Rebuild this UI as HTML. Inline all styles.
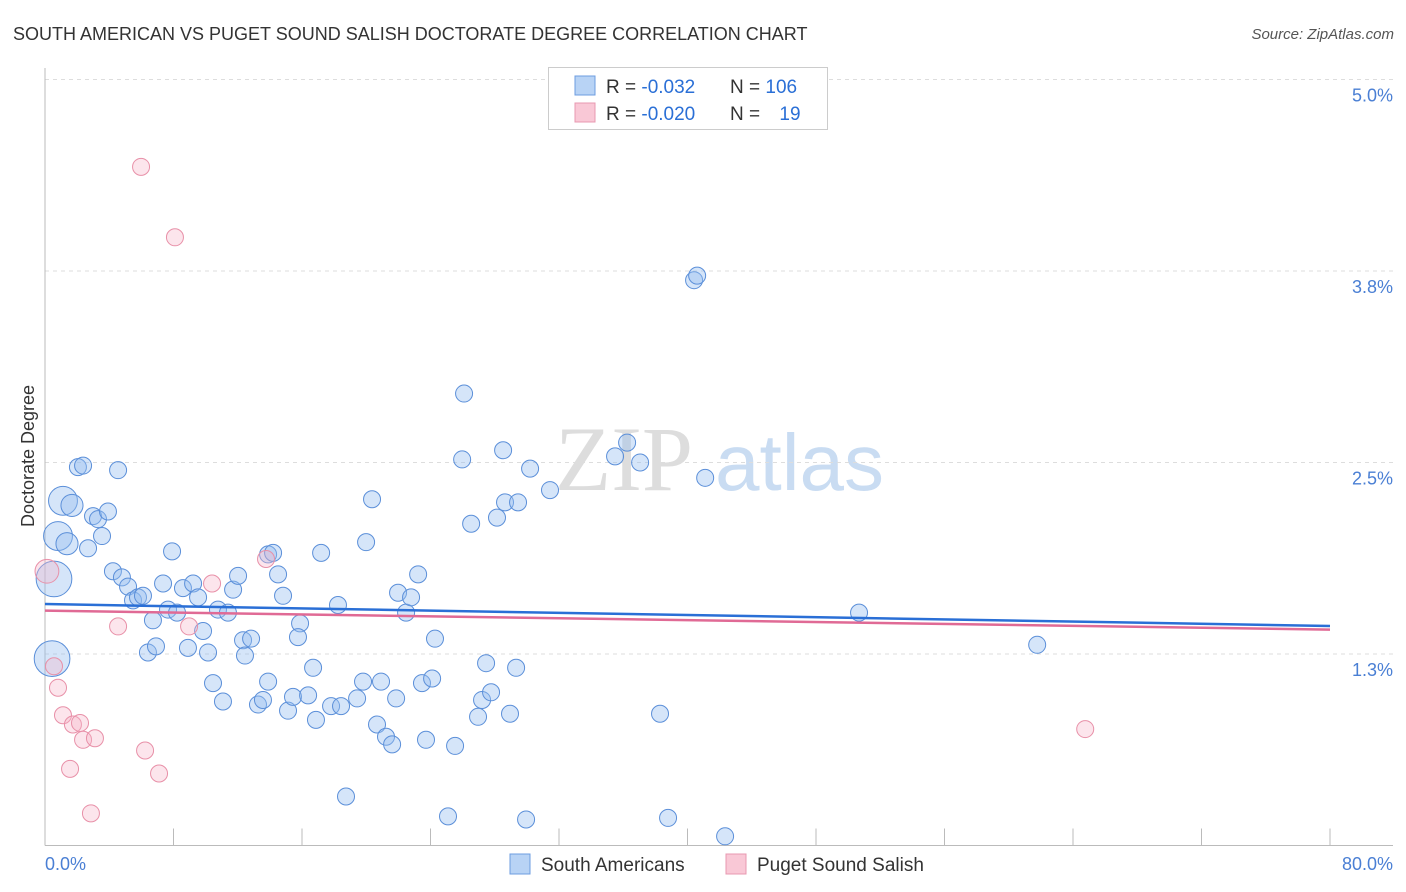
<!DOCTYPE html>
<html><head><meta charset="utf-8">
<style>
body{margin:0;background:#fff;font-family:"Liberation Sans",sans-serif;}
svg{display:block}
</style></head>
<body>
<svg id="chart" width="1406" height="892">
  <text x="13" y="40" font-size="18" fill="#333">SOUTH AMERICAN VS PUGET SOUND SALISH DOCTORATE DEGREE CORRELATION CHART</text>
  <text x="1394" y="39" font-size="15" fill="#555" font-style="italic" text-anchor="end">Source: ZipAtlas.com</text>
  <g>
    <text x="555" y="490" font-size="92" font-family="Liberation Serif,serif" fill="#ddd">ZIP</text>
    <text x="715" y="490" font-size="80" fill="#c9dcf2">atlas</text>
  </g>
  <g id="grid"></g>
  <g id="axes"></g>
  <g id="points"></g>
  <g id="trends"></g>
  <text transform="translate(34,456) rotate(-90)" font-size="18" fill="#333" text-anchor="middle">Doctorate Degree</text>
  <text x="45" y="870" font-size="18" fill="#4a7fd4">0.0%</text>
  <text x="1393" y="870" font-size="18" fill="#4a7fd4" text-anchor="end">80.0%</text>
  <g>
    <rect x="548.5" y="67.5" width="279" height="62" fill="#fff" stroke="#ccc"/>
    <rect x="575" y="76" width="20" height="19" fill="#b8d3f5" stroke="#6d9de0"/>
    <rect x="575" y="103" width="20" height="19" fill="#f9c8d6" stroke="#e898b0"/>
    <text x="606" y="93" font-size="19" fill="#333">R = <tspan fill="#2a6fd6">-0.032</tspan></text>
    <text x="730" y="93" font-size="19" fill="#333">N = <tspan fill="#2a6fd6">106</tspan></text>
    <text x="606" y="120" font-size="19" fill="#333">R = <tspan fill="#2a6fd6">-0.020</tspan></text>
    <text x="730" y="120" font-size="19" fill="#333">N = <tspan fill="#2a6fd6" dx="14">19</tspan></text>
  </g>
  <g>
    <rect x="510" y="854" width="20" height="20" fill="#b8d3f5" stroke="#6d9de0"/>
    <text x="541" y="871" font-size="19" fill="#333">South Americans</text>
    <rect x="726" y="854" width="20" height="20" fill="#f9c8d6" stroke="#e898b0"/>
    <text x="757" y="871" font-size="19" fill="#333">Puget Sound Salish</text>
  </g>
</svg>
<script>
const yTicks=[1.25,2.5,3.75,5.0];
const yTickLabels=["1.3%","2.5%","3.8%","5.0%"];
const xTicks=[0,8,16,24,32,40,48,56,64,72,80];
const blueX=[2.05,2.37,4.55,1.12,1.68,2.99,3.30,3.92,0.81,1.37,2.68,3.55,0.56,7.91,4.23,4.79,5.17,5.48,5.79,6.10,7.35,7.66,8.22,8.59,9.22,9.53,6.72,10.77,11.39,11.71,12.02,13.89,14.20,14.51,14.82,15.88,15.75,17.19,18.24,19.99,20.36,21.98,22.48,22.79,23.23,8.90,9.84,10.15,6.41,6.91,12.33,12.83,12.45,0.44,10.46,11.08,13.26,13.57,13.89,15.13,15.44,16.38,16.69,16.87,17.81,18.43,19.43,19.80,20.92,21.86,20.67,21.23,21.61,23.72,23.47,24.10,24.28,25.53,26.96,27.21,27.77,28.95,27.46,29.33,18.74,25.09,29.95,38.79,42.34,38.29,61.77,50.68,26.09,25.97,26.53,28.14,28.52,28.64,29.45,30.20,31.44,35.49,36.24,37.05,41.10,40.41,40.60];
const blueY=[2.47,2.48,2.45,2.25,2.22,2.15,2.13,2.18,2.02,1.97,1.94,2.02,1.74,1.92,1.79,1.75,1.69,1.60,1.62,1.63,1.71,1.54,1.52,1.68,1.71,1.62,1.47,1.54,1.52,1.67,1.76,1.90,1.91,1.77,1.63,1.45,1.36,1.91,1.57,1.98,2.26,1.65,1.52,1.62,1.77,1.29,1.40,1.26,1.26,1.30,1.34,1.35,1.24,1.22,1.06,0.94,0.92,0.95,1.07,0.88,0.97,0.98,1.16,0.82,0.91,0.91,0.96,1.07,1.07,0.96,0.79,0.71,0.66,0.69,1.06,1.09,1.35,0.65,0.84,0.95,1.00,0.86,1.19,1.16,0.32,0.19,0.17,0.18,0.06,0.86,1.31,1.52,2.95,2.52,2.10,2.14,2.58,2.24,2.24,2.46,2.32,2.54,2.63,2.50,2.40,3.69,3.72];
const blueW=[1,1,1,1.7,1.3,1,1,1,1.7,1.3,1,1,2.1,1,1,1,1,1,1,1,1,1,1,1,1,1,1,1,1,1,1,1,1,1,1,1,1,1,1,1,1,1,1,1,1,1,1,1,1,1,1,1,1,2.1,1,1,1,1,1,1,1,1,1,1,1,1,1,1,1,1,1,1,1,1,1,1,1,1,1,1,1,1,1,1,1,1,1,1,1,1,1,1,1,1,1,1,1,1,1,1,1,1,1,1,1,1,1];
const pinkX=[0.12,0.56,0.81,1.12,1.74,2.18,2.37,3.11,1.56,2.86,4.55,6.23,7.10,5.98,8.09,8.97,10.40,13.76,64.76];
const pinkY=[1.79,1.17,1.03,0.85,0.79,0.80,0.69,0.70,0.50,0.21,1.43,0.62,0.47,4.43,3.97,1.43,1.71,1.87,0.76];
const pinkW=[1.4,1,1,1,1,1,1,1,1,1,1,1,1,1,1,1,1,1,1];
const blueTrend=[1.576,1.433];
const pinkTrend=[1.533,1.409];
const X0=45,X1=1330,Y0=845.5,PPU=153.2;
const xs=v=>X0+v*(X1-X0)/80;
const ys=v=>Y0-v*PPU;
const NS="http://www.w3.org/2000/svg";
function mk(tag,attrs,parent){const e=document.createElementNS(NS,tag);for(const k in attrs)e.setAttribute(k,attrs[k]);parent.appendChild(e);return e;}
const grid=document.getElementById('grid'),axes=document.getElementById('axes'),pts=document.getElementById('points'),tr=document.getElementById('trends');
yTicks.forEach((t,i)=>{
  const l=mk('line',{x1:X0,x2:1393,y1:ys(t),y2:ys(t),stroke:'#ddd','stroke-dasharray':'4,4'},grid);
  
  
  const tx=mk('text',{x:1393,y:ys(t)+22,'font-size':18,fill:'#4a7fd4','text-anchor':'end'},grid);
  tx.textContent=yTickLabels[i];
  
  
});
const ya=mk('line',{x1:X0,x2:X0,y1:68,y2:Y0,stroke:'#bbb'},axes);


const xa=mk('line',{x1:X0,x2:1393,y1:Y0,y2:Y0,stroke:'#bbb'},axes);


xTicks.forEach(t=>{
  const l=mk('line',{x1:xs(t),x2:xs(t),y1:Y0,y2:Y0-17,stroke:'#bbb'},axes);
  
  
});
blueX.forEach((v,i)=>{
  const c=mk('circle',{cx:xs(v),cy:ys(blueY[i]),r:8.5*blueW[i],fill:'rgba(150,190,240,0.4)',stroke:'#5b8fd9','stroke-width':1},pts);
  
  
});
pinkX.forEach((v,i)=>{
  const c=mk('circle',{cx:xs(v),cy:ys(pinkY[i]),r:8.5*pinkW[i],fill:'rgba(245,180,200,0.35)',stroke:'#e890a8','stroke-width':1},pts);
  
  
});
const bl=mk('line',{x1:xs(0),x2:xs(80),y1:ys(blueTrend[0]),y2:ys(blueTrend[1]),stroke:'#2a6fd6','stroke-width':2.5},tr);


const pl=mk('line',{x1:xs(0),x2:xs(80),y1:ys(pinkTrend[0]),y2:ys(pinkTrend[1]),stroke:'#e06a95','stroke-width':2.5},tr);


</script>
</body></html>
